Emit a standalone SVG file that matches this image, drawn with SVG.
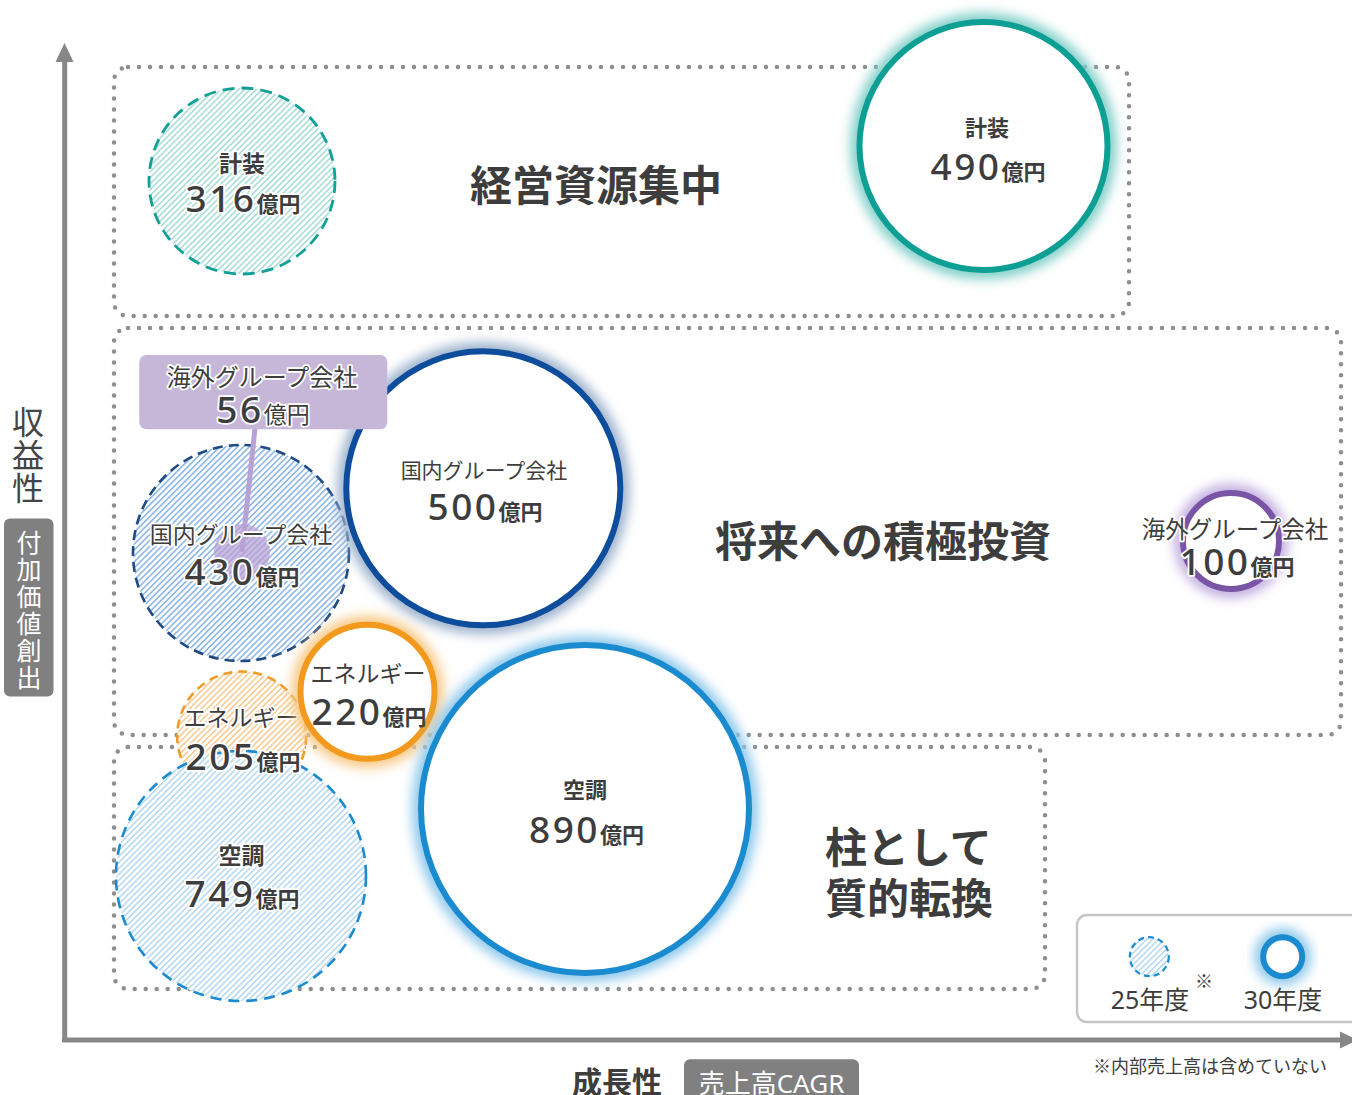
<svg xmlns="http://www.w3.org/2000/svg" width="1352" height="1095" viewBox="0 0 1352 1095">
<defs>
<style>
.dot{fill:none;stroke:#8e8e8e;stroke-width:4.5;stroke-linecap:round;stroke-dasharray:0 11}
.t{font-family:"Noto Sans","Noto Sans CJK JP",sans-serif;fill:#3d3d3d;text-anchor:middle}
.halo{stroke:#fff;stroke-width:3.5;stroke-linejoin:round;paint-order:stroke}
.big{font-family:"Noto Sans CJK JP","Noto Sans",sans-serif;fill:#3d3d3d;font-size:42px;font-weight:700}
.cj{font-family:"Noto Sans CJK JP",sans-serif}
.num{font-size:37px;letter-spacing:2.5px;font-weight:500}
.yen{font-family:"Noto Sans CJK JP",sans-serif;font-size:22px;font-weight:700}
.glow{fill:none;stroke-width:18;filter:url(#blur)}
.ring{fill:#fff;stroke-width:6}
.axis{stroke:#878787;stroke-width:5;fill:none}
</style>
<filter id="blur" x="-40%" y="-40%" width="180%" height="180%"><feGaussianBlur stdDeviation="6"/></filter>
<pattern id="hTeal" width="4.2" height="4.2" patternUnits="userSpaceOnUse" patternTransform="rotate(45)"><rect width="4.2" height="4.2" fill="#fff"/><rect width="1.6" height="4.2" fill="#a8ddd7"/></pattern>
<pattern id="hNavy" width="4.2" height="4.2" patternUnits="userSpaceOnUse" patternTransform="rotate(45)"><rect width="4.2" height="4.2" fill="#fff"/><rect width="1.7" height="4.2" fill="#94bbe8"/></pattern>
<pattern id="hBlue" width="4.2" height="4.2" patternUnits="userSpaceOnUse" patternTransform="rotate(45)"><rect width="4.2" height="4.2" fill="#fff"/><rect width="1.6" height="4.2" fill="#b8d9f1"/></pattern>
<pattern id="hOrange" width="4.2" height="4.2" patternUnits="userSpaceOnUse" patternTransform="rotate(45)"><rect width="4.2" height="4.2" fill="#fff"/><rect width="1.6" height="4.2" fill="#f7cc94"/></pattern>
</defs>
<rect width="1352" height="1095" fill="#fff"/>

<g id="zones">
<rect class="dot" x="114" y="67" width="1015" height="249" rx="14"/>
<rect class="dot" x="114" y="328" width="1227" height="407" rx="14"/>
<rect class="dot" x="114" y="747" width="931" height="242" rx="14"/>
</g>

<g id="axes">
<line class="axis" x1="64.7" y1="1042" x2="64.7" y2="58"/>
<polygon points="64.5,43 55.5,62 73.5,62" fill="#878787"/>
<line class="axis" x1="62.2" y1="1040" x2="1342" y2="1040"/>
<polygon points="1340,1031.5 1340,1048.5 1358,1040" fill="#878787"/>
</g>

<g id="zone-labels">
<text class="big" x="596" y="201" text-anchor="middle">経営資源集中</text>
<text class="big" x="883" y="557" text-anchor="middle">将来への積極投資</text>
<text class="big" x="825" y="863">柱として</text>
<text class="big" x="825" y="914">質的転換</text>
</g>

<g id="node-keiso-25">
<circle cx="242" cy="181" r="93" fill="url(#hTeal)" stroke="#12a096" stroke-width="2.8" stroke-dasharray="12 7"/>
<text class="t halo" x="242" y="172" font-size="23" font-weight="700">計装</text>
<text class="t halo" x="243" y="211.7"><tspan class="num" font-weight="400">316</tspan><tspan class="yen">億円</tspan></text>
</g>

<g id="node-kokunai-25">
<circle cx="241" cy="553" r="108" fill="url(#hNavy)" stroke="#1f4a82" stroke-width="2.6" stroke-dasharray="10 6"/>
</g>

<g id="node-energy-25">
<circle cx="241.7" cy="736" r="64.5" fill="url(#hOrange)" stroke="#f09a27" stroke-width="2.6" stroke-dasharray="9 6"/>
</g>

<g id="node-kucho-25">
<circle cx="241" cy="876" r="125" fill="url(#hBlue)" stroke="#1a8bd1" stroke-width="2.6" stroke-dasharray="11 7"/>
<text class="t halo" x="241.5" y="863.5" font-size="23" font-weight="700">空調</text>
<text class="t halo" x="242" y="906.7"><tspan class="num">749</tspan><tspan class="yen">億円</tspan></text>
</g>

<g id="node-energy-25-text">
<text class="t halo" x="241" y="726" font-size="23">エネルギー</text>
<text class="t halo" x="243" y="770"><tspan class="num">205</tspan><tspan class="yen">億円</tspan></text>
</g>

<g id="node-keiso-30">
<circle class="glow" cx="983.5" cy="146" r="124" stroke="#7fcfc8"/>
<circle class="ring" cx="983.5" cy="146" r="124" stroke="#0e9f94"/>
<text class="t" x="987" y="136" font-size="22" font-weight="700">計装</text>
<text class="t" x="988" y="180"><tspan class="num">490</tspan><tspan class="yen">億円</tspan></text>
</g>

<g id="node-kokunai-30">
<circle class="glow" cx="483.3" cy="488.3" r="137" stroke="#9bb1cc"/>
<circle class="ring" cx="483.3" cy="488.3" r="137" stroke="#0e4c9c"/>
<text class="t" x="484" y="478" font-size="21">国内グループ会社</text>
<text class="t" x="485" y="520"><tspan class="num">500</tspan><tspan class="yen">億円</tspan></text>
</g>

<g id="node-energy-30">
<circle class="glow" cx="367.5" cy="691.7" r="67" stroke="#f8c985"/>
<circle class="ring" cx="367.5" cy="691.7" r="67" stroke="#f39a1e"/>
<text class="t" x="368" y="682" font-size="23">エネルギー</text>
<text class="t" x="369" y="725"><tspan class="num">220</tspan><tspan class="yen">億円</tspan></text>
</g>

<g id="node-kucho-30">
<circle class="glow" cx="585" cy="809" r="164" stroke="#8dc8ec"/>
<circle class="ring" cx="585" cy="809" r="164" stroke="#1b8bd0"/>
<text class="t" x="585" y="798" font-size="22" font-weight="700">空調</text>
<text class="t" x="586.5" y="843"><tspan class="num" font-weight="400">890</tspan><tspan class="yen">億円</tspan></text>
</g>

<g id="node-kaigai-30">
<circle class="glow" cx="1231" cy="541" r="48" stroke="#c2aee0"/>
<circle class="ring" cx="1231" cy="541" r="48" stroke="#7a55a6" stroke-width="5"/>
<text class="t halo" x="1235" y="538" font-size="23.5">海外グループ会社</text>
<text class="t halo" x="1237" y="575"><tspan class="num">100</tspan><tspan class="yen">億円</tspan></text>
</g>

<g id="connectors">
<circle cx="242" cy="552" r="28" fill="#b69cd3" fill-opacity="0.7"/>
<line x1="255" y1="428" x2="242" y2="552" stroke="#b9a1d6" stroke-width="5"/>
</g>

<g id="node-kokunai-25-text">
<text class="t halo" x="241" y="543" font-size="23">国内グループ会社</text>
<text class="t halo" x="242" y="585"><tspan class="num">430</tspan><tspan class="yen">億円</tspan></text>
</g>

<g id="node-kaigai-25">
<rect x="139.3" y="355" width="248" height="74.3" rx="7" fill="#c6b7d9"/>
<text class="t halo" x="262" y="386" font-size="24" fill="#555">海外グループ会社</text>
<text class="t halo" x="263" y="422.7" fill="#555"><tspan class="num" font-weight="400">56</tspan><tspan class="cj" font-size="23">億円</tspan></text>
</g>

<g id="y-axis-label">
<text class="cj" x="28" y="406" font-size="32" fill="#444" writing-mode="vertical-rl" letter-spacing="1">収益性</text>
<rect x="4" y="518.5" width="49.5" height="178" rx="6" fill="#808080"/>
<text class="cj" x="29" y="529.5" font-size="25" fill="#fff" writing-mode="vertical-rl" letter-spacing="2">付加価値創出</text>
</g>

<g id="x-axis-label">
<text class="t cj" x="617" y="1093" font-size="30" font-weight="700">成長性</text>
<rect x="684" y="1059.3" width="175" height="50" rx="6" fill="#808080"/>
<text class="t" x="771.5" y="1093" font-size="26" style="fill:#fff">売上高CAGR</text>
</g>

<g id="legend">
<rect x="1077" y="915" width="290" height="107" rx="10" fill="#fff" stroke="#c6c6c6" stroke-width="2.5"/>
<circle cx="1149.3" cy="956.7" r="19.5" fill="url(#hBlue)" stroke="#1a8bd1" stroke-width="2.2" stroke-dasharray="6 4"/>
<circle class="glow" cx="1282.7" cy="956.7" r="19.5" stroke="#8dc8ec" stroke-width="12" filter="url(#blur)"/>
<circle class="ring" cx="1282.7" cy="956.7" r="19.5" stroke="#1b8bd0"/>
<text class="t" x="1150" y="1009" font-size="25">25年度</text>
<text class="t cj" x="1204" y="988" font-size="18">※</text>
<text class="t" x="1283" y="1009" font-size="25">30年度</text>
</g>

<g id="note">
<text class="t cj" x="1210" y="1073" font-size="18" fill="#555">※内部売上高は含めていない</text>
</g>
</svg>
